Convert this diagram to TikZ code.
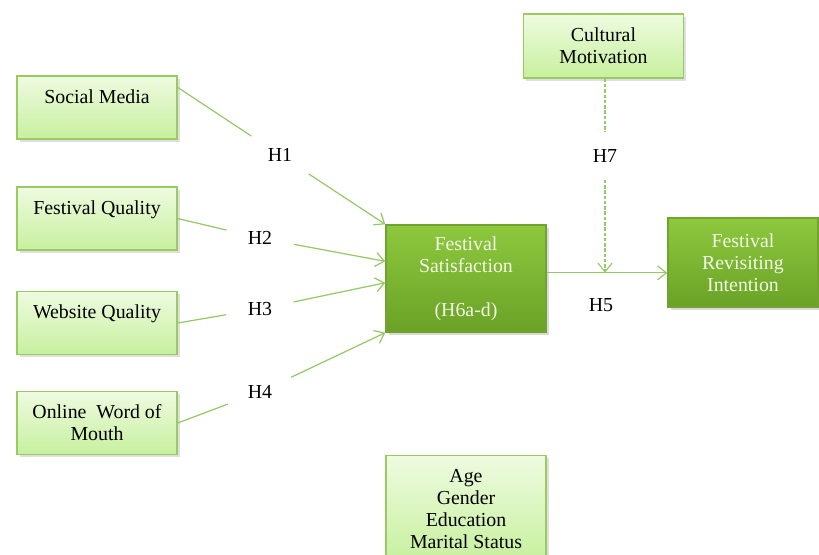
\documentclass[tikz,border=0pt]{standalone}
\usepackage{fontspec}
\setmainfont{Liberation Serif}
\usetikzlibrary{arrows.meta,shadows}
\definecolor{lightfill}{RGB}{238,251,224}
\definecolor{lightfillb}{RGB}{199,240,158}
\definecolor{boxline}{RGB}{155,202,98}
\definecolor{darktop}{RGB}{142,200,62}
\definecolor{darkbot}{RGB}{106,162,38}
\definecolor{darkline}{RGB}{112,164,46}
\definecolor{darktext}{RGB}{242,248,232}
\definecolor{linkgreen}{RGB}{150,200,104}

\begin{document}
\begin{tikzpicture}[x=0.02cm,y=-0.02cm,
  every node/.style={font=\fontsize{11.3}{12.5}\selectfont},
  lightbox/.style={draw=boxline,line width=0.8pt,top color=lightfill,bottom color=lightfillb,
    minimum width=3.2cm,minimum height=1.26cm,align=center,
    drop shadow={opacity=0.25,shadow xshift=1.5pt,shadow yshift=-1.5pt}},
  darkbox/.style={draw=darkline,line width=0.8pt,top color=darktop,bottom color=darkbot,
    text=darktext,align=center,
    drop shadow={opacity=0.3,shadow xshift=1.5pt,shadow yshift=-1.5pt}},
  hyp/.style={circle,inner sep=0pt,minimum size=1.36cm},
  link/.style={draw=linkgreen,line width=0.7pt},
  tip/.style={-{Straight Barb[length=5pt,width=8pt]}}
]
\useasboundingbox (0,0) rectangle (819,555);

% Antecedents (left column)
\node[lightbox] (sm) at (97,107.5) {Social Media\\ \mbox{}};
\node[lightbox] (fq) at (97,218.5) {Festival Quality\\ \mbox{}};
\node[lightbox] (wq) at (97,323) {Website Quality\\ \mbox{}};
\node[lightbox] (wom) at (97,423) {Online\ \ Word of\\ Mouth};

% Moderator and controls
\node[lightbox,minimum height=1.28cm] (cm) at (603.5,46) {Cultural\\ Motivation};
\node[lightbox,minimum height=2.12cm,anchor=north] (ctrl) at (466,455) {Age\\ Gender\\ Education\\ Marital Status};

% Mediator and outcome
\node[darkbox,minimum width=3.2cm,minimum height=2.14cm] (fs) at (466,278.5) {Festival\\ Satisfaction\\ \mbox{}\\ (H6a-d)};
\node[darkbox,minimum width=3.0cm,minimum height=1.78cm] (fri) at (743,262.5) {Festival\\ Revisiting\\ Intention};

% Hypothesis labels
\node[hyp] (h1) at (280,155) {H1};
\node[hyp] (h2) at (260,238) {H2};
\node[hyp] (h3) at (260,309) {H3};
\node[hyp] (h4) at (260,392) {H4};
\node[hyp,minimum size=0.94cm] (h7) at (605,156) {H7};
\node (h5) at (601,305) {H5};

% Paths to festival satisfaction
\draw[link] (sm.14) -- (h1);
\draw[link,tip] (h1) -- (fs.north west);
\draw[link] (fq.east) -- (h2);
\draw[link,tip] (h2) -- (fs.168);
\draw[link] (wq.east) -- (h3);
\draw[link,tip] (h3) -- (fs.183);
\draw[link] (wom.east) -- (h4);
\draw[link,tip] (h4) -- (fs.south west);

% Satisfaction to revisiting intention
\draw[link,tip] (fs.4) -- (fs.4 -| fri.west);

% Moderating path (dashed)
\draw[link,dash pattern=on 2pt off 1pt] (h7 |- cm.south) -- (h7);
\draw[link,dash pattern=on 2pt off 1pt,tip] (h7) -- (h7 |- fs.4);
\end{tikzpicture}
\end{document}
